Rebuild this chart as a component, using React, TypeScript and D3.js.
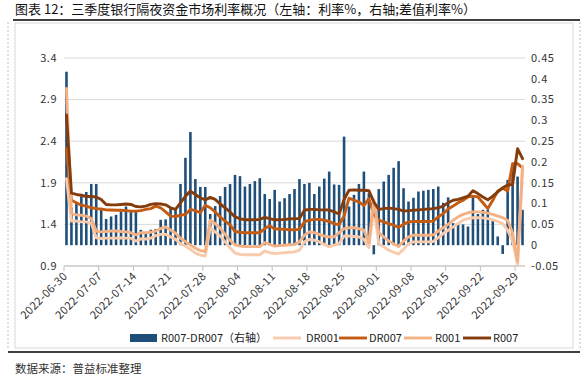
import React from "react";
import * as d3 from "d3";

const START = new Date(Date.UTC(2022, 5, 30));
const END = new Date(Date.UTC(2022, 9, 1));
const days: Date[] = d3.utcDay.range(START, END);

const tickLabels = [
  "2022-06-30", "2022-07-07", "2022-07-14", "2022-07-21", "2022-07-28",
  "2022-08-04", "2022-08-11", "2022-08-18", "2022-08-25", "2022-09-01",
  "2022-09-08", "2022-09-15", "2022-09-22", "2022-09-29",
];
const leftTicks = [0.9, 1.4, 1.9, 2.4, 2.9, 3.4];
const rightTicks = [-0.05, 0, 0.05, 0.1, 0.15, 0.2, 0.25, 0.3, 0.35, 0.4, 0.45];

// R007-DR007 (right axis)
const spread = [
  0.417, 0.09, 0.101, 0.117, 0.128, 0.147, 0.147, 0.089, 0.063, 0.069,
  0.073, 0.081, 0.093, 0.081, 0.081, 0.037, 0.029, 0.037, 0.039, 0.061,
  0.062, 0.09, 0.085, 0.147, 0.21, 0.272, 0.159, 0.14, 0.14, 0.075,
  0.094, 0.118, 0.14, 0.147, 0.169, 0.166, 0.141, 0.147, 0.154, 0.161,
  0.123, 0.111, 0.133, 0.105, 0.113, 0.123, 0.135, 0.159, 0.147, 0.15,
  0.123, 0.141, 0.16, 0.177, 0.146, 0.145, 0.261, 0.093, 0.121, 0.147,
  0.177, 0.125, -0.022, 0.135, 0.153, 0.169, 0.186, 0.202, 0.137, 0.105,
  0.114, 0.129, 0.131, 0.133, 0.135, 0.141, 0.102, 0.115, 0.053, 0.05,
  0.05, 0.045, 0.119, 0.075, 0.085, 0.085, 0.061, 0.021, -0.021, 0.157,
  0.193, 0.165, 0.085,
];
const dr001 = [
  1.95, 1.44, 1.44, 1.43, 1.43, 1.415, 1.24, 1.23, 1.235, 1.235,
  1.235, 1.24, 1.235, 1.235, 1.2, 1.225, 1.225, 1.235, 1.265, 1.28,
  1.28, 1.25, 1.22, 1.17, 1.14, 1.1, 1.055, 1.03, 1.02, 1.36,
  1.31, 1.26, 1.19, 1.12, 1.055, 1.04, 1.035, 1.035, 1.035, 1.035,
  1.08, 1.06, 1.05, 1.055, 1.06, 1.065, 1.07, 1.09, 1.19, 1.22,
  1.21, 1.19, 1.16, 1.13, 1.15, 1.17, 1.26, 1.26, 1.255, 1.25,
  1.22, 1.12, 1.6, 1.17, 1.13, 1.09, 1.065, 1.045, 1.1, 1.17,
  1.19, 1.19, 1.19, 1.19, 1.195, 1.24, 1.29, 1.33, 1.37, 1.41,
  1.45, 1.47, 1.48, 1.48, 1.478, 1.47, 1.455, 1.435, 1.41, 1.33,
  1.2, 0.92, 2.05,
];
const dr007 = [
  2.31, 1.69, 1.66, 1.63, 1.62, 1.6, 1.59, 1.585, 1.575, 1.573,
  1.57, 1.57, 1.565, 1.56, 1.56, 1.565, 1.58, 1.59, 1.62, 1.6,
  1.55, 1.5, 1.495, 1.51, 1.52, 1.58, 1.565, 1.54, 1.63, 1.6,
  1.55, 1.49, 1.44, 1.395, 1.315, 1.305, 1.3, 1.3, 1.3, 1.3,
  1.35, 1.385, 1.345, 1.345, 1.34, 1.335, 1.335, 1.34, 1.43, 1.45,
  1.46, 1.46, 1.45, 1.435, 1.41, 1.395, 1.5, 1.715, 1.69, 1.67,
  1.625, 1.71, 1.52, 1.45, 1.43, 1.41, 1.39, 1.365, 1.4, 1.43,
  1.435, 1.435, 1.435, 1.435, 1.44, 1.49, 1.53, 1.585, 1.62, 1.66,
  1.69, 1.73, 1.74, 1.73, 1.66, 1.59, 1.69, 1.8, 1.835, 1.8,
  2.13, 2.13, 2.08,
];
const r001 = [
  3.035, 1.535, 1.515, 1.51, 1.5, 1.47, 1.32, 1.31, 1.315, 1.32,
  1.32, 1.315, 1.31, 1.3, 1.275, 1.3, 1.3, 1.305, 1.32, 1.35,
  1.37, 1.333, 1.293, 1.233, 1.193, 1.153, 1.113, 1.085, 1.075, 1.45,
  1.41, 1.355, 1.28, 1.21, 1.155, 1.14, 1.133, 1.133, 1.133, 1.133,
  1.18, 1.16, 1.14, 1.145, 1.15, 1.155, 1.16, 1.19, 1.27, 1.31,
  1.3, 1.28, 1.26, 1.25, 1.25, 1.3, 1.35, 1.36, 1.36, 1.35,
  1.33, 1.18, 1.69, 1.3, 1.25, 1.2, 1.165, 1.135, 1.2, 1.25,
  1.27, 1.27, 1.27, 1.27, 1.275, 1.32, 1.36, 1.4, 1.45, 1.49,
  1.52, 1.54, 1.55, 1.55, 1.545, 1.535, 1.52, 1.5, 1.48, 1.45,
  1.3, 0.95, 2.1,
];
const r007 = [
  2.715, 1.775, 1.76, 1.75, 1.735, 1.735, 1.73, 1.7, 1.64, 1.635,
  1.635, 1.64, 1.645, 1.64, 1.615, 1.61, 1.62, 1.64, 1.65, 1.645,
  1.635, 1.6, 1.58, 1.66, 1.74, 1.8, 1.76, 1.72, 1.695, 1.725,
  1.7, 1.645, 1.6, 1.55, 1.49, 1.47, 1.455, 1.455, 1.455, 1.46,
  1.485, 1.47, 1.455, 1.455, 1.46, 1.465, 1.47, 1.47, 1.57, 1.58,
  1.58, 1.575, 1.575, 1.573, 1.55, 1.525, 1.7, 1.81, 1.815, 1.81,
  1.81, 1.805, 1.67, 1.58, 1.59, 1.595, 1.59, 1.58, 1.56, 1.565,
  1.57, 1.575, 1.58, 1.585, 1.59, 1.6, 1.62, 1.66, 1.69, 1.7,
  1.72, 1.74, 1.805, 1.77, 1.73, 1.695, 1.74, 1.79, 1.84, 1.875,
  1.88, 2.31, 2.19,
];

const seriesNames = ["R007-DR007（右轴）", "DR001", "DR007", "R001", "R007"];
const barColor = "#1F4E79";
const lineColors = ["#F8CBAD", "#C55A11", "#F4B183", "#843C0C"];

const FONT = "'Noto Sans CJK SC', 'Noto Sans', sans-serif";

export default function App() {
  const W = 585, H = 380;
  const plotL = 64, plotR = 525, plotT = 58, plotB = 266;
  const x = d3.scaleUtc().domain([START, END]).range([plotL, plotR]);
  const dayW = x(d3.utcDay.offset(START, 1)) - x(START);
  const cx = (i: number) => x(days[i]) + dayW / 2;
  const yL = d3.scaleLinear().domain([0.9, 3.4]).range([plotB, plotT]);
  const yR = d3.scaleLinear().domain([-0.05, 0.45]).range([plotB, plotT]);
  const parse = d3.utcParse("%Y-%m-%d");
  const lineGen = d3.line<number>().x((_, i) => cx(i)).y((v) => yL(v));
  const lines = [dr001, dr007, r001, r007];
  const barW = dayW * 0.52;
  const fmtR = (v: number) => (Math.abs(v) < 1e-9 ? "0" : String(+v.toFixed(2)));

  const legendItems = [
    { x: 130, tx: 161 },
    { x: 273, tx: 306 },
    { x: 339, tx: 369 },
    { x: 404, tx: 435 },
    { x: 463, tx: 493 },
  ];

  return (
    <div style={{ position: "absolute", left: 0, top: 0 }}>
      <svg width={W} height={H} style={{ display: "block", background: "#fff" }} fontFamily={FONT}>
        <text x={15} y={14} fontSize={13} fill="#111">图表 12：三季度银行隔夜资金市场利率概况（左轴：利率%，右轴;差值利率%）</text>
        <line x1={13} x2={580} y1={20} y2={20} stroke="#000" strokeWidth={1.5} />
        <rect x={15} y={23} width={558} height={325} fill="none" stroke="#d9d9d9" />
        <line x1={8} x2={8} y1={22} y2={350} stroke="#bfbfbf" strokeDasharray="2,2" />
        <line x1={580} x2={580} y1={22} y2={350} stroke="#bfbfbf" strokeDasharray="2,2" />
        <line x1={8} x2={580} y1={352} y2={352} stroke="#000" strokeWidth={1.5} />
        <text x={15} y={373} fontSize={11.5} fill="#333">数据来源：普益标准整理</text>

        {leftTicks.map((t) => (
          <g key={"l" + t}>
            <line x1={plotL} x2={plotR} y1={yL(t)} y2={yL(t)} stroke="#d9d9d9" strokeWidth={1} />
            <text x={57} y={yL(t)} dy="0.35em" textAnchor="end" fontSize={11} fill="#333" letterSpacing={0.5}>{t.toFixed(1)}</text>
          </g>
        ))}
        {rightTicks.map((t) => (
          <text key={"r" + t} x={531} y={yR(t)} dy="0.35em" fontSize={11} fill="#333" letterSpacing={0.5}>{fmtR(t)}</text>
        ))}

        <line x1={plotL} x2={plotR} y1={plotB} y2={plotB} stroke="#bfbfbf" />
        {tickLabels.map((s) => {
          const tx = x(parse(s) as Date);
          return (
            <g key={s}>
              <line x1={tx} x2={tx} y1={plotB} y2={plotB + 5} stroke="#bfbfbf" />
              <text transform={`translate(${tx + 4},${plotB + 11}) rotate(-45)`} textAnchor="end" fontSize={11.2} fill="#333" letterSpacing={0.3}>{s}</text>
            </g>
          );
        })}

        {spread.map((v, i) => (
          <rect key={"b" + i} x={cx(i) - barW / 2} width={barW}
            y={Math.min(yR(v), yR(0))} height={Math.abs(yR(v) - yR(0))} fill={barColor} />
        ))}

        {lines.map((vals, k) => (
          <path key={"ln" + k} d={lineGen(vals) || ""} fill="none" stroke={lineColors[k]}
            strokeWidth={2.9} strokeLinejoin="round" strokeLinecap="round" />
        ))}

        {legendItems.map((it, k) => (
          <g key={"lg" + k}>
            {k === 0 ? (
              <rect x={it.x} y={334} width={27} height={8} fill={barColor} />
            ) : (
              <line x1={it.x} x2={it.x + 28} y1={338} y2={338} stroke={lineColors[k - 1]} strokeWidth={2.9} />
            )}
            <text x={it.tx} y={338} dy="0.35em" fontSize={11} fill="#222">{seriesNames[k]}</text>
          </g>
        ))}
      </svg>
    </div>
  );
}
